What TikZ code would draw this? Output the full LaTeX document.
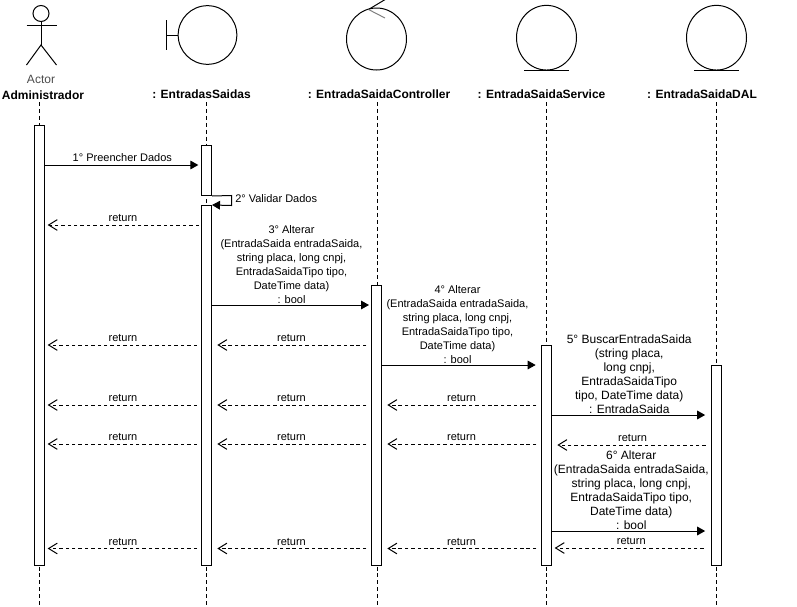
\documentclass[tikz,border=0pt]{standalone}
\usepackage{fontspec}
\setmainfont{Liberation Sans}
\usetikzlibrary{shapes, arrows.meta, positioning, calc}

\tikzset{
    lifeline/.style={dashed, dash pattern=on 3pt off 2.2pt, line width=0.75pt},
    bar/.style={draw, fill=white, line width=0.75pt, minimum width=7.5pt, inner sep=0pt, minimum height=#1*0.75pt},
    icon/.style={draw, line width=0.75pt, inner sep=0pt},
    title/.style={font=\fontsize{9}{11}\selectfont\bfseries, inner sep=0pt},
    msg/.style={line width=0.75pt, -{Triangle[length=6pt,width=6.5pt]}},
    ret/.style={line width=0.75pt, dashed, dash pattern=on 2.6pt off 2.2pt, -{Straight Barb[length=6.5pt,width=8pt]}},
    lbl/.style={font=\fontsize{8.25}{10.5}\selectfont, align=center, inner sep=0pt, above=2pt},
    lbllong/.style={lbl, above=1pt},
    lblbig/.style={lbl, font=\fontsize{9}{10.5}\selectfont, above=0.5pt},
}

\begin{document}
\begin{tikzpicture}[x=0.75pt, y=-0.75pt]
    \useasboundingbox (0,0) rectangle (797,607);

    % lifelines
    \foreach \who/\xx in {act/39.5, bnd/206, ctl/377, srv/546.5, dal/716} {
        \coordinate (top\who) at (\xx,102);
        \coordinate (bot\who) at (\xx,605);
        \draw[lifeline] (top\who) -- (bot\who);
    }

    % actor
    \node[icon, circle, minimum size=12pt] (head) at (41,13.5) {};
    \coordinate (hip) at (41,45);
    \draw[line width=0.75pt] (head.south) -- (hip);
    \draw[line width=0.75pt] (26.5,25) -- (56.5,25);
    \draw[line width=0.75pt] (26.5,65) -- (hip) -- (56.5,65);
    \node[font=\fontsize{9}{11}\selectfont, text=black!70, inner sep=0pt] (actlabel) at (41,79.5) {Actor};
    \node[title] (acttitle) at (43,95) {Administrador};

    % boundary
    \node[icon, circle, minimum size=44pt] (bndicon) at (207.5,35) {};
    \coordinate (bndbar) at (166.5,35);
    \draw[line width=0.75pt] (bndicon.west) -- (bndbar);
    \draw[line width=0.75pt] (166.5,20) -- (166.5,50);
    \node[title] (bndtitle) at (201.5,94) {: EntradasSaidas};

    % controller
    \node[icon, ellipse, minimum width=45pt, minimum height=46.5pt] (ctlicon) at (376.5,39) {};
    \draw[line width=0.75pt] (386,-1) -- (368.5,9.5);
    \draw[line width=0.75pt, black!50] (368.5,9.5) -- (385,18);
    \node[title] (ctltitle) at (379,94) {: EntradaSaidaController};

    % service
    \node[icon, ellipse, minimum width=45pt, minimum height=48.5pt] (srvicon) at (546.5,37.7) {};
    \draw[line width=0.75pt] ($(srvicon.south)+(-22.5,0)$) -- ($(srvicon.south)+(22.5,0)$);
    \node[title] (srvtitle) at (541.5,94) {: EntradaSaidaService};

    % DAL
    \node[icon, ellipse, minimum width=45pt, minimum height=48.5pt] (dalicon) at (716.5,37.7) {};
    \draw[line width=0.75pt] ($(dalicon.south)+(-22.5,0)$) -- ($(dalicon.south)+(22.5,0)$);
    \node[title] (daltitle) at (702,94) {: EntradaSaidaDAL};

    % activation bars
    \node[bar=440] (baract) at (39.5,345.3) {};
    \node[bar=50] (barbnda) at (206.5,170.5) {};
    \node[bar=360] (barbndb) at (206.5,385.5) {};
    \node[bar=280] (barctl) at (376.5,425.3) {};
    \node[bar=220] (barsrv) at (546.5,455.3) {};
    \node[bar=200] (bardal) at (716,465.3) {};

    % messages
    \draw[msg, shorten >=2pt] (baract.east |- 0,165) -- (barbnda.west |- 0,165)
        node[lbl, midway, xshift=-0.5pt] (m1) {1° Preencher Dados};
    \coordinate (selfa) at (231.5,195.5);
    \coordinate (selfb) at (231.5,205.5);
    \draw[msg] (barbnda.south east) -- (selfa) -- (selfb) -- (barbndb.north east);
    \node[lbl, above=0pt, anchor=west] (m2) at (235,199) {2° Validar Dados};
    \draw[msg, shorten >=1.5pt] (barbndb.east |- 0,305) -- (barctl.west |- 0,305)
        node[lbllong, midway] (m3) {3° Alterar\\(EntradaSaida entradaSaida,\\string placa, long cnpj,\\EntradaSaidaTipo tipo,\\DateTime data)\\: bool};
    \draw[msg, shorten >=4pt] (barctl.east |- 0,365) -- (barsrv.west |- 0,365)
        node[lbllong, midway, xshift=-3pt] (m4) {4° Alterar\\(EntradaSaida entradaSaida,\\string placa, long cnpj,\\EntradaSaidaTipo tipo,\\DateTime data)\\: bool};
    \draw[msg, shorten >=4pt] (barsrv.east |- 0,415) -- (bardal.west |- 0,415)
        node[lblbig, midway, xshift=-1.5pt] (m5) {5° BuscarEntradaSaida\\(string placa,\\long cnpj,\\EntradaSaidaTipo\\ tipo, DateTime data)\\: EntradaSaida};
    \draw[msg, shorten >=4pt] (barsrv.east |- 0,531) -- (bardal.west |- 0,531)
        node[lblbig, midway] (m6) {6° Alterar\\(EntradaSaida entradaSaida,\\string placa, long cnpj,\\EntradaSaidaTipo tipo,\\DateTime data)\\: bool};

    % returns
    \draw[ret, shorten <=1.5pt, shorten >=2pt] (barbndb.west |- 0,225) -- (baract.east |- 0,225) node[lbl, midway] (r1) {return};
    \foreach \yy/\src/\dst in {345/barctl/barbndb, 405/barsrv/barctl, 405/barctl/barbndb, 444/barsrv/barctl, 444/barctl/barbndb, 548.5/barsrv/barctl, 548.5/barctl/barbndb} {
        \draw[ret, shorten <=3.5pt, shorten >=4pt] (\src.west |- 0,\yy) -- (\dst.east |- 0,\yy) node[lbl, midway] {return};
    }
    \foreach \yy in {345, 405, 444, 548.5} {
        \draw[ret, shorten <=3pt, shorten >=2pt] (barbndb.west |- 0,\yy) -- (baract.east |- 0,\yy) node[lbl, midway] {return};
    }
    \draw[ret, shorten <=3.5pt, shorten >=4pt] (bardal.west |- 0,445) -- (barsrv.east |- 0,445) node[lbl, midway, xshift=1pt] (r2) {return};
    \draw[ret, shorten <=5pt, shorten >=2pt] (bardal.west |- 0,548) -- (barsrv.east |- 0,548) node[lbl, midway] (r3) {return};
\end{tikzpicture}
\end{document}
